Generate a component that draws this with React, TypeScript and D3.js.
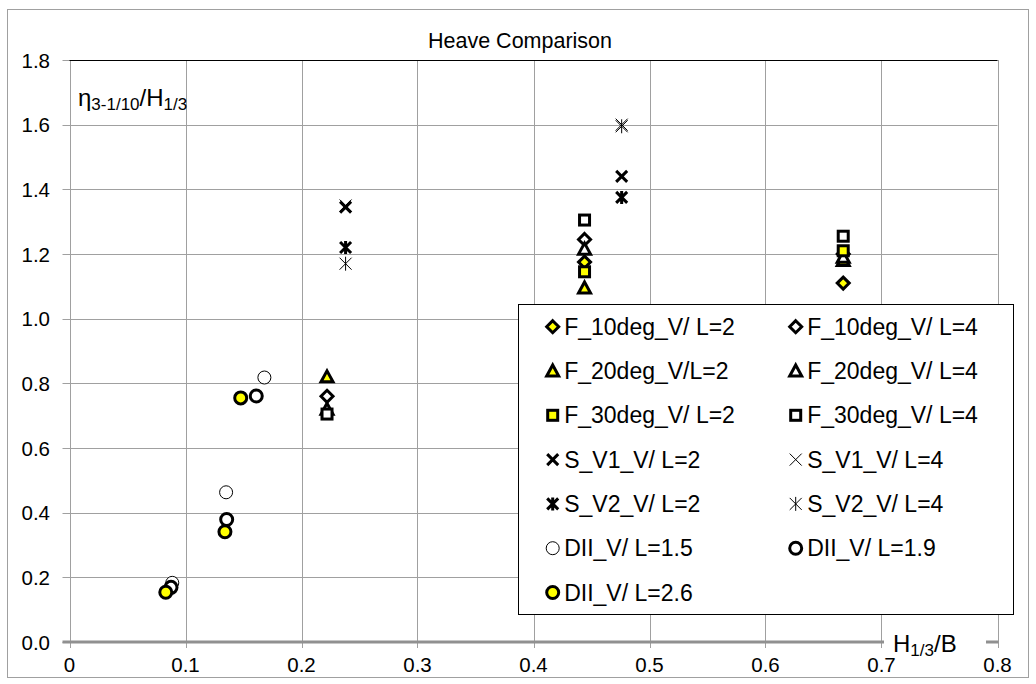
import React from "react";
import * as d3 from "d3";

// ---- data ----
const xTickValues = [0, 0.1, 0.2, 0.3, 0.4, 0.5, 0.6, 0.7, 0.8];
const xTickLabels = ["0", "0.1", "0.2", "0.3", "0.4", "0.5", "0.6", "0.7", "0.8"];
const yTickValues = [0, 0.2, 0.4, 0.6, 0.8, 1.0, 1.2, 1.4, 1.6, 1.8];
const yTickLabels = ["0.0", "0.2", "0.4", "0.6", "0.8", "1.0", "1.2", "1.4", "1.6", "1.8"];

const f10L2: [number, number][] = [[0.444, 1.175], [0.667, 1.11]];
const f10L4: [number, number][] = [[0.222, 0.76], [0.444, 1.245], [0.667, 1.2]];
const f20L2: [number, number][] = [[0.222, 0.82], [0.444, 1.095], [0.667, 1.18]];
const f20L4: [number, number][] = [[0.222, 0.72], [0.444, 1.215], [0.667, 1.19]];
const f30L2: [number, number][] = [[0.444, 1.145], [0.667, 1.21]];
const f30L4: [number, number][] = [[0.222, 0.705], [0.444, 1.305], [0.667, 1.255]];
const s1L2: [number, number][] = [[0.238, 1.345], [0.476, 1.44]];
const s1L4: [number, number][] = [[0.238, 1.35], [0.476, 1.6]];
const s2L2: [number, number][] = [[0.238, 1.22], [0.476, 1.375]];
const s2L4: [number, number][] = [[0.238, 1.17], [0.476, 1.595]];
const dii15: [number, number][] = [[0.0886, 0.183], [0.135, 0.463], [0.168, 0.818]];
const dii19: [number, number][] = [[0.0875, 0.169], [0.1355, 0.379], [0.161, 0.761]];
const dii26: [number, number][] = [[0.083, 0.154], [0.134, 0.341], [0.1476, 0.755]];

type MarkerKind =
  | "diamond" | "triangle" | "square" | "xBold" | "xThin" | "starBold" | "starThin"
  | "circleThin" | "circleBold";

const seriesNames = [
  "F_10deg_V/ L=2", "F_10deg_V/ L=4",
  "F_20deg_V/L=2", "F_20deg_V/ L=4",
  "F_30deg_V/ L=2", "F_30deg_V/ L=4",
  "S_V1_V/ L=2", "S_V1_V/ L=4",
  "S_V2_V/ L=2", "S_V2_V/ L=4",
  "DII_V/ L=1.5", "DII_V/ L=1.9",
  "DII_V/ L=2.6",
];
const seriesMarkers: MarkerKind[] = [
  "diamond", "diamond", "triangle", "triangle", "square", "square",
  "xBold", "xThin", "starBold", "starThin", "circleThin", "circleBold", "circleBold",
];
const seriesFills = [
  "#ffff00", "#ffffff", "#ffff00", "#ffffff", "#ffff00", "#ffffff",
  "none", "none", "none", "none", "#ffffff", "#ffffff", "#ffff00",
];
const seriesData = [f10L2, f10L4, f20L2, f20L4, f30L2, f30L4, s1L2, s1L4, s2L2, s2L4, dii15, dii19, dii26];

const FONT = "'Liberation Sans', Arial, sans-serif";

function Marker({ kind, fill, cx, cy }: { kind: MarkerKind; fill: string; cx: number; cy: number }) {
  const t = `translate(${cx},${cy})`;
  switch (kind) {
    case "diamond":
      return <path transform={t} d="M0,-6L6,0L0,6L-6,0Z" fill={fill} stroke="#000" strokeWidth={3} />;
    case "triangle":
      return <path transform={t} d="M0,-6L6,5L-6,5Z" fill={fill} stroke="#000" strokeWidth={3} strokeLinejoin="miter" />;
    case "square":
      return <rect transform={t} x={-5} y={-5} width={10} height={10} fill={fill} stroke="#000" strokeWidth={3} />;
    case "xBold":
      return <path transform={t} d="M-5.5,-5.5L5.5,5.5M-5.5,5.5L5.5,-5.5" stroke="#000" strokeWidth={3} fill="none" />;
    case "xThin":
      return <path transform={t} d="M-6,-6L6,6M-6,6L6,-6" stroke="#000" strokeWidth={1} fill="none" />;
    case "starBold":
      return <path transform={t} d="M-5.5,-5.5L5.5,5.5M-5.5,5.5L5.5,-5.5M0,-6.5L0,6.5" stroke="#000" strokeWidth={3} fill="none" />;
    case "starThin":
      return <path transform={t} d="M-6,-6L6,6M-6,6L6,-6M0,-7L0,7" stroke="#000" strokeWidth={1} fill="none" />;
    case "circleThin":
      return <circle cx={cx} cy={cy} r={6.5} fill={fill} stroke="#000" strokeWidth={1} />;
    case "circleBold":
      return <circle cx={cx} cy={cy} r={6} fill={fill} stroke="#000" strokeWidth={3} />;
  }
  return null;
}

export default function App() {
  const width = 1036;
  const height = 684;
  const x = d3.scaleLinear().domain([0, 0.8]).range([69.5, 997.5]);
  const y = d3.scaleLinear().domain([0, 1.8]).range([642, 60]);

  const legendX = 518;
  const legendY = 304;
  const legendW = 495;
  const legendH = 310;

  return (
    <svg width={width} height={height} style={{ position: "absolute", left: 0, top: 0, background: "#fff" }} fontFamily={FONT}>
      <rect x={0} y={0} width={width} height={height} fill="#fff" />
      <rect x={7.5} y={9.5} width={1021} height={668} fill="none" stroke="#a0a0a0" strokeWidth={1} />

      {/* title */}
      <text x={520} y={48} textAnchor="middle" fontSize={21.5} fill="#000">Heave Comparison</text>

      {/* vertical gridlines + x ticks */}
      {xTickValues.map((v, i) => (
        <line key={"vg" + i} x1={Math.round(x(v)) + 0.5} x2={Math.round(x(v)) + 0.5} y1={y(1.8)} y2={y(0) + 6} stroke="#a0a0a0" strokeWidth={1} />
      ))}
      {/* horizontal gridlines + y ticks */}
      {yTickValues.map((v, i) => (
        <line key={"hg" + i} x1={x(0) - 7} x2={x(0.8)} y1={Math.round(y(v)) + 0.5} y2={Math.round(y(v)) + 0.5} stroke="#a0a0a0" strokeWidth={1} />
      ))}
      {/* top border black */}
      <line x1={x(0)} x2={x(0.8)} y1={Math.round(y(1.8)) + 0.5} y2={Math.round(y(1.8)) + 0.5} stroke="#000" strokeWidth={1} />
      {/* x axis thick */}
      <line x1={x(0) - 7} x2={x(0.8) + 1} y1={y(0)} y2={y(0)} stroke="#909090" strokeWidth={3} />

      {/* tick labels */}
      {yTickValues.map((v, i) => (
        <text key={"yl" + i} x={50} y={y(v)} textAnchor="end" dominantBaseline="central" fontSize={20.5} fill="#000">{yTickLabels[i]}</text>
      ))}
      {xTickValues.map((v, i) => (
        <text key={"xl" + i} x={x(v)} y={664} textAnchor="middle" dominantBaseline="central" fontSize={20.5} fill="#000">{xTickLabels[i]}</text>
      ))}

      {/* y axis label */}
      <text x={78} y={106} fontSize={24} fill="#000">
        <tspan>η</tspan>
        <tspan fontSize={17} dy={4}>3-1/10</tspan>
        <tspan fontSize={24} dy={-4}>/H</tspan>
        <tspan fontSize={17} dy={4}>1/3</tspan>
      </text>

      {/* x axis label */}
      <rect x={884} y={628} width={102} height={28} fill="#fff" />
      <text x={893} y={652} fontSize={24} fill="#000">
        <tspan>H</tspan>
        <tspan fontSize={17} dy={4}>1/3</tspan>
        <tspan fontSize={24} dy={-4}>/B</tspan>
      </text>

      {/* data */}
      {seriesData.map((data, si) => (
        <g key={"s" + si}>
          {data.map((d, pi) => (
            <Marker key={pi} kind={seriesMarkers[si]} fill={seriesFills[si]} cx={x(d[0])} cy={y(d[1])} />
          ))}
        </g>
      ))}

      {/* legend */}
      <rect x={legendX + 0.5} y={legendY + 0.5} width={legendW} height={legendH} fill="#fff" stroke="#000" strokeWidth={1} />
      {seriesNames.map((name, i) => {
        const col = i % 2;
        const row = Math.floor(i / 2);
        const my = 326.7 + row * 44.3;
        const mx = col === 0 ? 552.7 : 795.7;
        return (
          <g key={"lg" + i}>
            <Marker kind={seriesMarkers[i]} fill={seriesFills[i]} cx={mx} cy={my} />
            <text x={mx + 11.5} y={my} dominantBaseline="central" fontSize={23} fill="#000">{name}</text>
          </g>
        );
      })}
    </svg>
  );
}
